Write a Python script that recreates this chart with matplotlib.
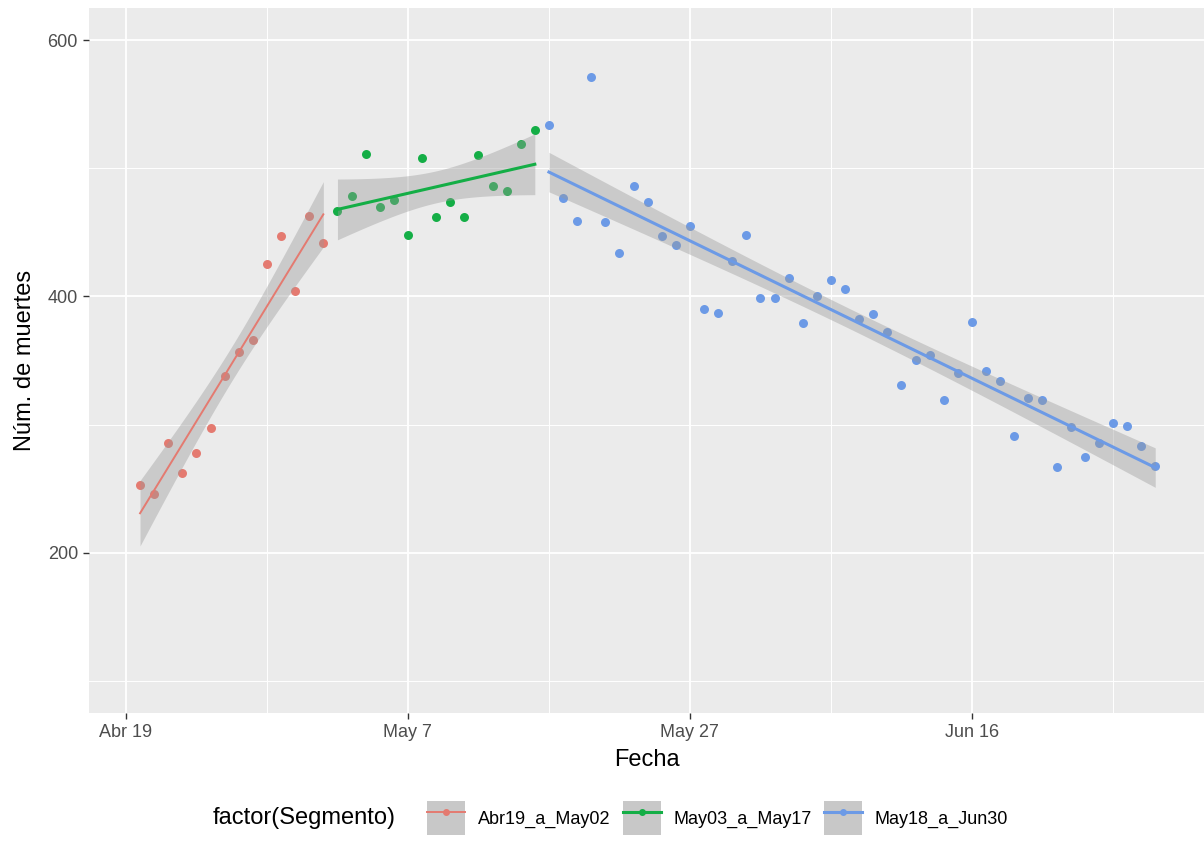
import numpy as np
import matplotlib
matplotlib.use("Agg")
import matplotlib.pyplot as plt
from matplotlib.patches import Patch
from matplotlib.lines import Line2D
from matplotlib.legend_handler import HandlerTuple

plt.rcParams['font.family'] = ['Liberation Sans Narrow', 'Liberation Sans', 'DejaVu Sans']

# daily deaths, day 1 = Abr 19
seg_names = ["Abr19_a_May02", "May03_a_May17", "May18_a_Jun30"]
seg_colors = ["#E47A70", "#14AE46", "#6C9AE6"]

days_1 = list(range(1, 15))
deaths_1 = [253, 246, 286, 262, 278, 297, 338, 357, 366, 425, 447, 404, 463, 442]

days_2 = list(range(15, 30))
deaths_2 = [467, 478, 511, 470, 475, 448, 508, 462, 474, 462, 510, 486, 482, 519, 530]

days_3 = list(range(30, 74))
deaths_3 = [534, 477, 459, 571, 458, 434, 486, 474, 447, 440, 455, 390, 387, 428,
            448, 399, 399, 414, 379, 400, 413, 406, 382, 386, 372, 331, 350, 354,
            319, 340, 380, 342, 334, 291, 321, 319, 267, 298, 275, 286, 301, 299,
            283, 268]

x_ticks = [0, 20, 40, 60]
x_labels = ["Abr 19", "May 7", "May 27", "Jun 16"]
y_ticks = [200, 400, 600]

# two-sided 95% t quantiles by residual df
T975 = {12: 2.179, 13: 2.160, 42: 2.018}


def lm_band(x, y):
    x = np.asarray(x, float)
    y = np.asarray(y, float)
    n = len(x)
    b, a = np.polyfit(x, y, 1)
    resid = y - (a + b * x)
    s = np.sqrt(np.sum(resid ** 2) / (n - 2))
    sxx = np.sum((x - x.mean()) ** 2)
    xs = np.linspace(x.min(), x.max(), 80)
    fit = a + b * xs
    se = s * np.sqrt(1.0 / n + (xs - x.mean()) ** 2 / sxx)
    t = T975[n - 2]
    return xs, fit, fit - t * se, fit + t * se


def main():
    fig = plt.figure(figsize=(12.04, 8.56), dpi=100)
    ax = fig.add_axes([89 / 1204, 143 / 856, 1 - 89 / 1204, (713 - 8) / 856])
    ax.set_facecolor("#EBEBEB")
    for s in ax.spines.values():
        s.set_visible(False)

    segments = [(days_1, deaths_1), (days_2, deaths_2), (days_3, deaths_3)]
    widths = [1.4, 2.2, 2.2]
    for (x, y), col, lw in zip(segments, seg_colors, widths):
        ax.scatter(x, y, s=42, color=col, zorder=3, linewidths=0)
    for (x, y), col, lw in zip(segments, seg_colors, widths):
        xs, fit, lo, hi = lm_band(x, y)
        ax.fill_between(xs, lo, hi, color="#999999", alpha=0.4, linewidth=0, zorder=4)
        ax.plot(xs, fit, color=col, lw=lw, zorder=5)

    ax.set_xlim(-2.62, 76.46)
    ax.set_ylim(75, 625)
    ax.set_xticks(x_ticks)
    ax.set_xticklabels(x_labels)
    ax.set_xticks([10, 30, 50, 70], minor=True)
    ax.set_yticks(y_ticks)
    ax.set_yticks([100, 300, 500], minor=True)
    ax.grid(True, which="major", color="white", lw=1.3, zorder=0)
    ax.grid(True, which="minor", color="white", lw=0.7, zorder=0)
    ax.set_axisbelow(True)
    ax.tick_params(which="major", length=4, width=1, color="#333333",
                   labelsize=13, labelcolor="#4D4D4D", pad=4)
    ax.tick_params(which="minor", length=0)

    ax.set_xlabel("Fecha", fontsize=17, labelpad=6)
    ax.set_ylabel("Núm. de muertes", fontsize=17, labelpad=8)

    handles = []
    for col, lw in zip(seg_colors, widths):
        handles.append((Patch(facecolor="#C8C8C8", edgecolor="none"),
                        Line2D([], [], color=col, lw=lw, marker="o", markersize=4)))
    fig.text(213 / 1204, 1 - 818 / 856, "factor(Segmento)", fontsize=17,
             va="center", ha="left")
    fig.legend(handles, seg_names, loc="center left",
               bbox_to_anchor=(427 / 1204, 1 - 818 / 856), ncol=3, frameon=False,
               fontsize=13, handlelength=2.1, handleheight=2.6, handletextpad=0.7,
               columnspacing=0.7, borderaxespad=0, borderpad=0,
               handler_map={tuple: HandlerTuple(ndivide=1, pad=0)})

    fig.savefig("out.png", dpi=100)


if __name__ == '__main__':
    main()
